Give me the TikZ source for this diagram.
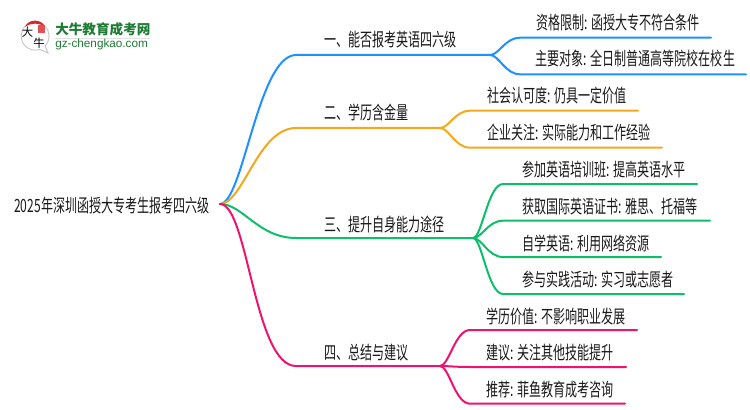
\documentclass[tikz,border=0pt]{standalone}
\usepackage{fontspec}
\usetikzlibrary{calc}
\newfontfamily\cjk[FakeStretch=0.66]{Noto Sans CJK SC}
\newfontfamily\cjklogo{Noto Sans CJK SC}
\newfontfamily\latinlogo{Liberation Sans}
\definecolor{cblue}{HTML}{1E90FF}
\definecolor{corange}{HTML}{F5A81C}
\definecolor{cgreen}{HTML}{0DBF6B}
\definecolor{cpink}{HTML}{F0126F}
\definecolor{clogo}{HTML}{1E7B34}
\definecolor{cred}{HTML}{D8262C}
\tikzset{
 lbl/.style={anchor=base west,inner sep=0pt,text=black!90,font=\cjk\fontsize{13.7pt}{14pt}\selectfont},
 rootlbl/.style={lbl},
 wire/.style={line width=1.5pt,line cap=round},
}
\begin{document}
\begin{tikzpicture}[x=0.75pt,y=-0.75pt]
\useasboundingbox (0,0) rectangle (750,410);
\coordinate (root) at (220,204);
% branches
\foreach \n/\c/\y/\e in {a/cblue/55/490,b/corange/128/440,c/cgreen/238/473,d/cpink/366/440}{
  \coordinate (\n s) at (296,\y);
  \coordinate (\n e) at (\e,\y);
}
\draw[wire,cblue] (root) .. controls (243,204) and (258,55) .. (as) -- (ae);
\draw[wire,corange] (root) .. controls (243,204) and (258,128) .. (bs) -- (be);
\draw[wire,cgreen] (root) .. controls (243,204) and (258,238) .. (cs) -- (ce);
\draw[wire,cpink] (root) .. controls (248,204) and (254,366) .. (ds) -- (de);
% leaves
\foreach \p/\y/\sx/\ex/\c/\n in {
 ae/37.7/520/711/cblue/a1, ae/74.3/520/746/cblue/a2,
 be/110.7/470/638/corange/b1, be/147.7/470/662/corange/b2,
 ce/184/503/697/cgreen/c1, ce/220.7/503/710/cgreen/c2, ce/257/503/661/cgreen/c3, ce/294/503/684/cgreen/c4,
 de/330/470/637/cpink/d1, de/367/470/626/cpink/d2, de/403.7/470/625/cpink/d3}{
  \coordinate (\n s) at (\sx,\y);
  \coordinate (\n e) at (\ex,\y);
  \draw[wire,\c] (\p) .. controls ($(\p)!.3!(\p -| \n s)$) and ($(\n s)!.5!(\p |- \n s)$) .. (\n s) -- (\n e);
}
% labels
\node[rootlbl] (t0) at (14,212) {2025年深圳函授大专考生报考四六级};
\node[lbl] (t1) at (324,47) {一、能否报考英语四六级};
\node[lbl] (t2) at (324,120) {二、学历含金量};
\node[lbl] (t3) at (324,231) {三、提升自身能力途径};
\node[lbl] (t4) at (324,359) {四、总结与建议};
\node[lbl] (a1) at (536,30) {资格限制: 函授大专不符合条件};
\node[lbl] (a2) at (535,66) {主要对象: 全日制普通高等院校在校生};
\node[lbl] (b1) at (487,103) {社会认可度: 仍具一定价值};
\node[lbl] (b2) at (487,140) {企业关注: 实际能力和工作经验};
\node[lbl] (c1) at (522,176) {参加英语培训班: 提高英语水平};
\node[lbl] (c2) at (522,213) {获取国际英语证书: 雅思、托福等};
\node[lbl] (c3) at (522,250) {自学英语: 利用网络资源};
\node[lbl] (c4) at (522,286) {参与实践活动: 实习或志愿者};
\node[lbl] (d1) at (486,323) {学历价值: 不影响职业发展};
\node[lbl] (d2) at (486,359) {建议: 关注其他技能提升};
\node[lbl] (d3) at (486,396) {推荐: 菲鱼教育成考咨询};
% logo
\draw[black!22,line width=.7pt] (40,49.5) -- (48,53) -- (45,46);
\draw[black!22,line width=.7pt] (45,46) arc[start angle=45,end angle=-290,radius=14];
\fill[cred] (25,27) .. controls (28,18.5) and (42,18.5) .. (45,27) .. controls (39,22.5) and (31,22.5) .. (25,27) -- cycle;
\fill[cred!80] (37.5,25) rectangle (44.5,33);
\node[inner sep=0pt,text=black,font=\cjklogo\fontsize{8.5pt}{9pt}\selectfont] (lg1) at (27.5,32) {大};
\node[inner sep=0pt,text=black,font=\cjklogo\fontsize{8.5pt}{9pt}\selectfont] (lg2) at (39,43.5) {牛};
\node[anchor=base west,inner sep=0pt,text=clogo,font=\cjklogo\bfseries\fontsize{10.2pt}{10pt}\selectfont] (lg3) at (55,35) {大牛教育成考网};
\fill[black!12] (55,38) rectangle (150,39);
\node[anchor=base west,inner sep=0pt,text=clogo,font=\latinlogo\fontsize{8.8pt}{9pt}\selectfont] (lg4) at (55,48) {gz-chengkao.com};
\end{tikzpicture}
\end{document}
